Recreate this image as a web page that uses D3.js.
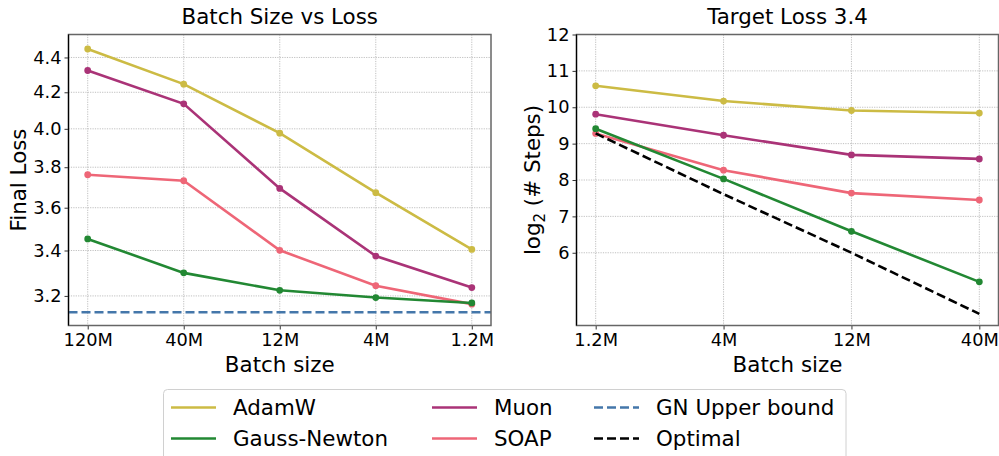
<!DOCTYPE html>
<html>
<head>
<meta charset="utf-8">
<script src="https://cdn.jsdelivr.net/npm/d3@7"></script>
<style>
  body { margin: 0; background: #fff; }
  svg { display: block; font-family: "DejaVu Sans", sans-serif; }
  .tick text { font-size: 17.8px; font-family: "DejaVu Sans", sans-serif; fill: #000; }
  .grid line { stroke: #b0b0b0; stroke-width: 0.8; stroke-dasharray: 1.2 1.2; }
</style>
</head>
<body>
<svg id="chart" width="999" height="456"></svg>
<script>
// left panel: final loss per batch size (log y axis)
const lossBatches = ["120M", "40M", "12M", "4M", "1.2M"];
const lossAdamW = [4.45, 4.246, 3.977, 3.673, 3.405];
const lossMuon = [4.324, 4.136, 3.694, 3.375, 3.236];
const lossSOAP = [3.762, 3.732, 3.401, 3.244, 3.165];
const lossGN = [3.453, 3.300, 3.224, 3.193, 3.170];
const gnUpperBound = 3.131;
const lossTicks = [3.2, 3.4, 3.6, 3.8, 4.0, 4.2, 4.4];

// right panel: log2 steps to reach target loss 3.4
const stepBatches = ["1.2M", "4M", "12M", "40M"];
const stepsAdamW = [10.59, 10.17, 9.91, 9.84];
const stepsMuon = [9.81, 9.23, 8.69, 8.58];
const stepsSOAP = [9.28, 8.27, 7.64, 7.45];
const stepsGN = [9.41, 8.03, 6.59, 5.20];
const stepsOptimal = [9.28, 7.61, 6.0, 4.32];
const stepTicks = [6, 7, 8, 9, 10, 11, 12];

const colors = {
  AdamW: "#CCBB44",
  "Gauss-Newton": "#228833",
  Muon: "#AA3377",
  SOAP: "#EE6677",
  "GN Upper bound": "#4477AA",
  Optimal: "#000000"
};

const labelSize = 21.4;
const svg = d3.select("#chart");

function drawPanel(cfg) {
  const g = svg.append("g");
  const n = cfg.categories.length;

  const x = d3.scalePoint()
      .domain(cfg.categories)
      .range([cfg.left, cfg.right])
      .padding(0.05 * (n - 1));

  const y = cfg.yScale.range([cfg.bottom, cfg.top]);

  // gridlines
  const grid = g.append("g").attr("class", "grid");
  grid.selectAll(".gx").data(cfg.categories).join("line")
      .attr("x1", d => x(d)).attr("x2", d => x(d))
      .attr("y1", cfg.top).attr("y2", cfg.bottom);
  grid.selectAll(".gy").data(cfg.yTicks).join("line")
      .attr("x1", cfg.left).attr("x2", cfg.right)
      .attr("y1", d => y(d)).attr("y2", d => y(d));

  // axes
  const xAxis = g.append("g")
      .attr("transform", `translate(0,${cfg.bottom})`)
      .call(d3.axisBottom(x).tickSize(4).tickPadding(4));
  const yAxis = g.append("g")
      .attr("transform", `translate(${cfg.left},0)`)
      .call(d3.axisLeft(y).tickValues(cfg.yTicks).tickFormat(cfg.yFormat).tickSize(4).tickPadding(3));
  [xAxis, yAxis].forEach(a => {
    a.attr("font-family", null).attr("font-size", null);
    a.select(".domain").remove();
    a.selectAll(".tick line").attr("stroke", "#333").attr("stroke-width", 1);
  });

  // data lines
  const line = d3.line().x((d, i) => x(cfg.categories[i])).y(d => y(d));
  cfg.series.forEach(s => {
    g.append("path")
        .attr("d", line(s.values))
        .attr("fill", "none")
        .attr("stroke", colors[s.name])
        .attr("stroke-width", 2.6)
        .attr("stroke-dasharray", s.dashed ? "9 4" : null);
    if (s.markers) {
      g.selectAll(null).data(s.values).join("circle")
          .attr("cx", (d, i) => x(cfg.categories[i]))
          .attr("cy", d => y(d))
          .attr("r", 3.4)
          .attr("fill", colors[s.name]);
    }
  });

  if (cfg.hline !== undefined) {
    g.append("line")
        .attr("x1", cfg.left).attr("x2", cfg.right)
        .attr("y1", y(cfg.hline.value)).attr("y2", y(cfg.hline.value))
        .attr("stroke", colors[cfg.hline.name])
        .attr("stroke-width", 2.6)
        .attr("stroke-dasharray", "9 4");
  }

  // frame
  g.append("rect")
      .attr("x", cfg.left).attr("y", cfg.top)
      .attr("width", cfg.right - cfg.left).attr("height", cfg.bottom - cfg.top)
      .attr("fill", "none").attr("stroke", "#666").attr("stroke-width", 1.5);
  g.append("line")
      .attr("x1", cfg.left).attr("x2", cfg.left)
      .attr("y1", cfg.top).attr("y2", cfg.bottom)
      .attr("stroke", "#000").attr("stroke-width", 1.2);

  // title & labels
  const cx = (cfg.left + cfg.right) / 2;
  g.append("text")
      .attr("x", cx).attr("y", 24)
      .attr("text-anchor", "middle")
      .attr("font-size", labelSize)
      .text(cfg.title);
  g.append("text")
      .attr("x", cx).attr("y", 372)
      .attr("text-anchor", "middle")
      .attr("font-size", labelSize)
      .text("Batch size");
  const yl = g.append("text")
      .attr("transform", `translate(${cfg.yLabelX},${(cfg.top + cfg.bottom) / 2}) rotate(-90)`)
      .attr("text-anchor", "middle")
      .attr("font-size", labelSize);
  cfg.yLabel(yl);
}

drawPanel({
  title: "Batch Size vs Loss",
  categories: lossBatches,
  left: 68.5, right: 491, top: 34.5, bottom: 325.5,
  yScale: d3.scaleLog().domain([3.076, 4.537]),
  yTicks: lossTicks,
  yFormat: d3.format(".1f"),
  yLabelX: 26,
  yLabel: t => t.text("Final Loss"),
  series: [
    { name: "AdamW", values: lossAdamW, markers: true },
    { name: "Muon", values: lossMuon, markers: true },
    { name: "SOAP", values: lossSOAP, markers: true },
    { name: "Gauss-Newton", values: lossGN, markers: true }
  ],
  hline: { name: "GN Upper bound", value: gnUpperBound }
});

drawPanel({
  title: "Target Loss 3.4",
  categories: stepBatches,
  left: 576.5, right: 998.5, top: 34.5, bottom: 325.5,
  yScale: d3.scaleLinear().domain([4, 12]),
  yTicks: stepTicks,
  yFormat: d3.format("d"),
  yLabelX: 540,
  yLabel: t => {
    t.append("tspan").text("log");
    t.append("tspan").attr("font-size", 15).attr("dy", 5).text("2");
    t.append("tspan").attr("dy", -5).text(" (# Steps)");
  },
  series: [
    { name: "AdamW", values: stepsAdamW, markers: true },
    { name: "Muon", values: stepsMuon, markers: true },
    { name: "SOAP", values: stepsSOAP, markers: true },
    { name: "Gauss-Newton", values: stepsGN, markers: true },
    { name: "Optimal", values: stepsOptimal, markers: false, dashed: true }
  ]
});

// legend
const legendItems = [
  { name: "AdamW", dashed: false },
  { name: "Gauss-Newton", dashed: false },
  { name: "Muon", dashed: false },
  { name: "SOAP", dashed: false },
  { name: "GN Upper bound", dashed: true },
  { name: "Optimal", dashed: true }
];
const legend = svg.append("g");
legend.append("rect")
    .attr("x", 163.5).attr("y", 389.5)
    .attr("width", 682.5).attr("height", 80)
    .attr("rx", 4)
    .attr("fill", "#fff").attr("stroke", "#d0d0d0").attr("stroke-width", 1);
const colX = [171, 432, 594];
const rowY = [407.5, 438.5];
legendItems.forEach((d, i) => {
  const col = Math.floor(i / 2), row = i % 2;
  const item = legend.append("g")
      .attr("transform", `translate(${colX[col]},${rowY[row]})`);
  item.append("line")
      .attr("x1", 0).attr("x2", 45)
      .attr("stroke", colors[d.name])
      .attr("stroke-width", 2.6)
      .attr("stroke-dasharray", d.dashed ? "9 4" : null);
  item.append("text")
      .attr("x", 62).attr("dy", "0.36em")
      .attr("font-size", labelSize)
      .text(d.name);
});
</script>
</body>
</html>
